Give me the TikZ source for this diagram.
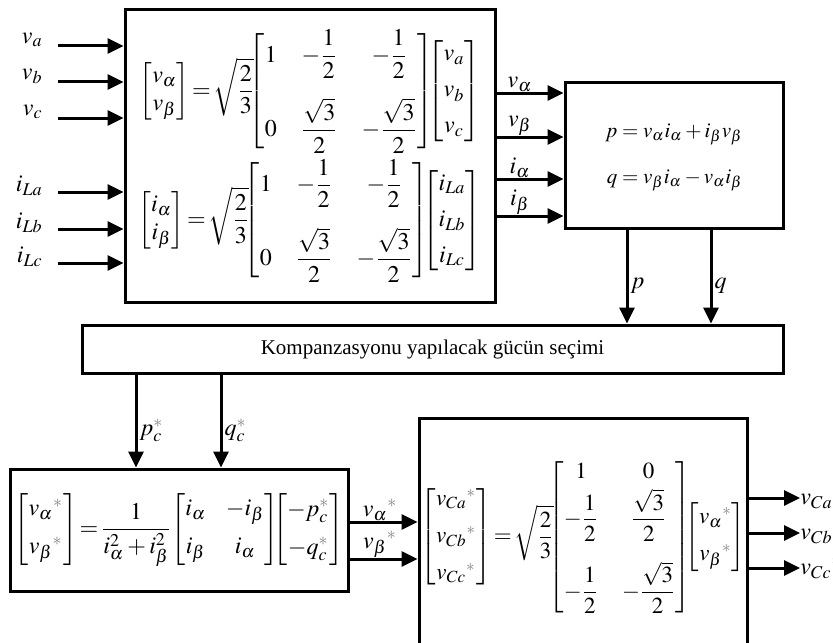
\documentclass[tikz,border=0pt]{standalone}
\usepackage{amsmath}
\usepackage{mathptmx}
\usepackage[no-math]{fontspec}
\setmainfont{Liberation Serif}
\usepackage{xcolor}
\definecolor{cMain}{HTML}{000000}
\definecolor{cStar}{HTML}{7F7F7F}
\usepackage{tikz}
\usetikzlibrary{arrows.meta,calc}
\tikzset{
  node-box/.style={draw=cMain,line width=1.5pt,inner sep=0pt,align=center},
  node-eq/.style={execute at begin node={\thickmuskip=2mu plus 1mu\relax}},
  arrow/.style={-{Triangle[length=8pt,width=7.5pt]},line width=1.5pt,draw=cMain},
  sig-label/.style={inner sep=1pt,font=\fontsize{12}{14}\selectfont},
}
\newcommand{\sstar}{\textcolor{cStar}{*}}
\newcommand{\tight}{\mkern-4mu}

\begin{document}
\begin{tikzpicture}[x=0.5pt,y=-0.5pt,font=\fontsize{10.5}{12.5}\selectfont]
  \useasboundingbox (0,0) rectangle (833,642);
  % Clarke
  \node[node-box,node-eq,minimum width=185pt,minimum height=146pt,font=\fontsize{12}{14}\selectfont,
    execute at begin node=\setlength{\arraycolsep}{6pt}] (clarke) at (310,156) {%
    $\displaystyle{\begin{bmatrix}v_\alpha\\ v_\beta\end{bmatrix}}=\sqrt{\frac{2}{3}}\tight
    {\begin{bmatrix}1 & -\dfrac{1}{2} & -\dfrac{1}{2}\\[14pt] 0 & \dfrac{\sqrt{3}}{2} & -\dfrac{\sqrt{3}}{2}\end{bmatrix}}\tight
    {\begin{bmatrix}v_a\\[4pt] v_b\\[4pt] v_c\end{bmatrix}}$\\[2pt]
    $\displaystyle{\begin{bmatrix}i_\alpha\\ i_\beta\end{bmatrix}}=\sqrt{\frac{2}{3}}\tight
    {\begin{bmatrix}1 & -\dfrac{1}{2} & -\dfrac{1}{2}\\[14pt] 0 & \dfrac{\sqrt{3}}{2} & -\dfrac{\sqrt{3}}{2}\end{bmatrix}}\tight
    {\begin{bmatrix}i_{La}\\[4pt] i_{Lb}\\[4pt] i_{Lc}\end{bmatrix}}$};
  \node[node-box,minimum width=109pt,minimum height=72.5pt,font=\fontsize{10.5}{12.5}\selectfont] (pq) at (674,155.5) {%
    $\begin{aligned}p&=v_\alpha i_\alpha+i_\beta v_\beta\\[6pt] q&=v_\beta i_\alpha-v_\alpha i_\beta\end{aligned}$};
  \node[node-box,minimum width=350.5pt,minimum height=24pt] (sel) at (432.5,349)
    {Kompanzasyonu yapılacak gücün seçimi};
  \node[node-box,node-eq,minimum width=169pt,minimum height=61pt,font=\fontsize{12}{14}\selectfont,
    execute at begin node=\setlength{\arraycolsep}{5pt}] (ref) at (179,530) {%
    $\displaystyle{\begin{bmatrix}v_\alpha{}^{\sstar}\\[5pt] v_\beta{}^{\sstar}\end{bmatrix}}=\frac{1}{i_\alpha^2+i_\beta^2}
    {\begin{bmatrix}i_\alpha & -i_\beta\\[5pt] i_\beta & i_\alpha\end{bmatrix}}\tight
    {\begin{bmatrix}-p_c^{\sstar}\\[5pt] -q_c^{\sstar}\end{bmatrix}}$};
  \node[node-box,node-eq,minimum width=164pt,minimum height=119pt,font=\fontsize{11.5}{13.5}\selectfont,
    execute at begin node=\setlength{\arraycolsep}{6pt}] (inv) at (583,537) {%
    $\displaystyle{\begin{bmatrix}v_{Ca}{}^{\sstar}\\[5pt] v_{Cb}{}^{\sstar}\\[5pt] v_{Cc}{}^{\sstar}\end{bmatrix}}=\sqrt{\frac{2}{3}}\tight
    {\begin{bmatrix}1 & 0\\[1pt] -\dfrac{1}{2} & \dfrac{\sqrt{3}}{2}\\[14pt] -\dfrac{1}{2} & -\dfrac{\sqrt{3}}{2}\end{bmatrix}}\tight
    {\begin{bmatrix}v_\alpha{}^{\sstar}\\[5pt] v_\beta{}^{\sstar}\end{bmatrix}}$};

  \foreach \y/\lab [count=\i] in {46/v_a,82/v_b,118/v_c,192/i_{La},229/i_{Lb},263/i_{Lc}}{
    \coordinate (in\i) at (58,\y);
    \draw[arrow] (in\i) -- (in\i -| clarke.west);
    \node[sig-label,anchor=east] (lin\i) at ($(in\i)+(-13,-6)$) {$\lab$};
  }
  \foreach \y/\lab [count=\i] in {93/v_\alpha,137/v_\beta,179/i_\alpha,216/i_\beta}{
    \coordinate (ab\i) at (565,\y);
    \draw[arrow] (ab\i -| clarke.east) -- node[sig-label,above,pos=0.35,inner sep=0pt] (lab\i) {$\lab$} (ab\i -| pq.west);
  }

  \coordinate (px) at (627,0);
  \coordinate (qx) at (711,0);
  \draw[arrow] (pq.south -| px) -- node[sig-label,right,pos=0.6] (lp) {$p$} (sel.north -| px);
  \draw[arrow] (pq.south -| qx) -- node[sig-label,right,pos=0.6] (lq) {$q$} (sel.north -| qx);

  \coordinate (pcx) at (136,0);
  \coordinate (qcx) at (221,0);
  \draw[arrow] (sel.south -| pcx) -- node[sig-label,right,pos=0.6] (lpc) {$p_c^{\sstar}$} (ref.north -| pcx);
  \draw[arrow] (sel.south -| qcx) -- node[sig-label,right,pos=0.6] (lqc) {$q_c^{\sstar}$} (ref.north -| qcx);

  \foreach \y/\lab [count=\i] in {522/v_\alpha,559/v_\beta}{
    \coordinate (ri\i) at (0,\y);
    \draw[arrow] (ri\i -| ref.east) -- node[sig-label,above,pos=0.45,inner sep=0pt] (lri\i) {$\lab{}^{\sstar}$} (ri\i -| inv.west);
  }
  \foreach \y/\lab [count=\i] in {498/v_{Ca},533/v_{Cb},568/v_{Cc}}{
    \coordinate (out\i) at (800,\y);
    \draw[arrow] (out\i -| inv.east) -- (out\i);
    \node[sig-label,anchor=west,inner sep=0pt] (lout\i) at (out\i) {$\lab{}^{\sstar}$};
  }
\end{tikzpicture}
\end{document}
